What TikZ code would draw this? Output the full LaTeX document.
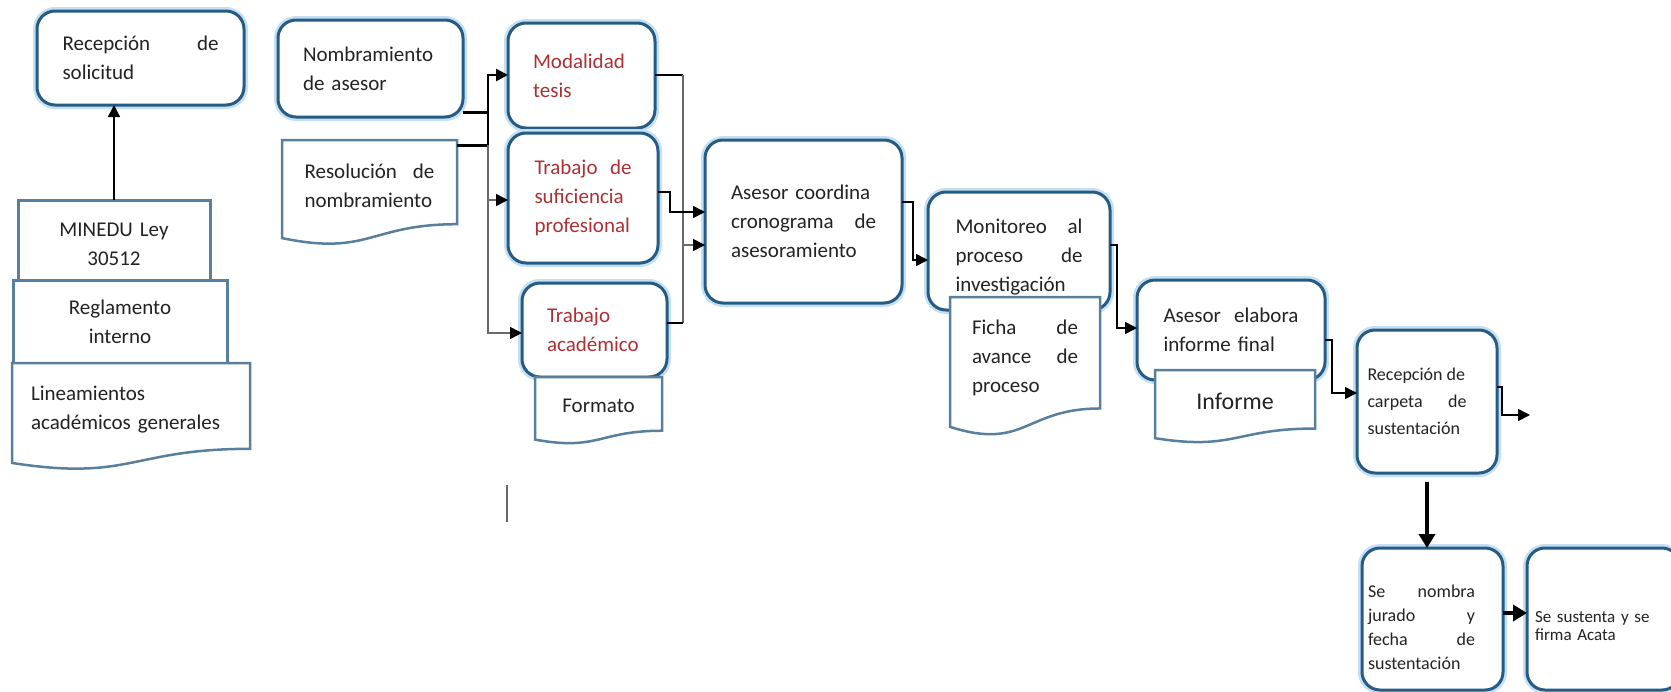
\documentclass[tikz,border=0pt]{standalone}
\usepackage{fontspec}
\setmainfont{Carlito}
\usetikzlibrary{arrows.meta}
\definecolor{rblue}{RGB}{38,92,132}
\definecolor{glowc}{RGB}{196,224,242}
\definecolor{dblue}{RGB}{88,128,158}
\definecolor{txt}{RGB}{35,35,35}
\definecolor{redt}{RGB}{172,48,52}
\definecolor{grayc}{RGB}{105,105,105}
\newcommand\jfill{\hskip0pt plus 1filll\relax}
\tikzset{
 bnode/.style={inner sep=0pt, outer sep=0pt, text=txt, font=\fontsize{21}{29}\selectfont, align=left},
 rbox/.style={bnode, draw=rblue, line width=3pt, rounded corners=18pt, fill=white, preaction={draw=glowc, line width=8pt}},
 sbox/.style={bnode, draw=dblue, line width=3pt, fill=white, align=center},
 docline/.style={draw=dblue, line width=2.5pt, fill=white},
 redtext/.style={text=redt},
 cline/.style={draw=black, line width=1.6pt},
 conn/.style={cline, -{Triangle[length=12pt,width=12pt,color=black]}},
 thickc/.style={draw=black, line width=3pt},
 bigarrow/.style={draw=black, line width=4.5pt, -{Triangle[length=14pt,width=16pt]}},
}
% box given by corners x0 y0 x1 y1
\newcommand\bx[7]{\node[#6, minimum width={(#4-#2)*1pt}, minimum height={(#5-#3)*1pt}] (#1) at ({(#2+#4)/2},{(#3+#5)/2}) {#7};}
% document shape: name x0 y0 width fullheight options text
\newcommand\dc[7]{%
 \path[docline] (#2,#3) -- ({#2+#4},#3) -- ({#2+#4},{#3+0.802*#5})
   .. controls ({#2+0.5*#4},{#3+0.802*#5}) and ({#2+0.5*#4},{#3+1.107*#5}) .. (#2,{#3+0.934*#5}) -- cycle;
 \node[bnode, #6, minimum width={#4*1pt}, minimum height={0.87*#5*1pt}] (#1) at ({#2+0.5*#4},{#3+0.435*#5}) {#7};}
\begin{document}
\begin{tikzpicture}[x=1pt,y=-1pt]
\fill[white] (0,0) rectangle (1671,691);
\useasboundingbox (0,0) rectangle (1671,691);

% left column
\bx{recsol}{37}{11}{244}{105}{rbox, text width=156pt}{Recepción \jfill de\\solicitud}
\bx{minedu}{18}{200}{210}{280}{sbox, text width=170pt}{\rule{0pt}{22pt}MINEDU Ley\\30512}
\bx{regl}{13}{280}{227}{363}{sbox, text width=190pt}{Reglamento\\interno}
\dc{lin}{12}{363}{238}{107}{text width=200pt}{Lineamientos\\académicos generales}

% second group
\bx{nom}{278}{20}{463}{117}{rbox, text width=135pt}{Nombramiento\\de asesor}
\dc{res}{282}{140}{175}{105}{text width=130pt}{Resolución \jfill de\\nombramiento}
\bx{mod}{508}{23}{655}{128}{rbox, redtext, text width=97pt}{Modalidad\\tesis}
\bx{suf}{508}{133}{658}{263}{rbox, redtext, text width=97pt}{Trabajo \jfill de\\suficiencia\\profesional}
\bx{acad}{522}{283}{667}{377}{rbox, redtext, text width=95pt}{Trabajo\\académico}
\dc{fmt}{535}{377}{127}{67}{align=center, text width=110pt}{Formato}

% middle
\bx{ase}{705}{140}{902}{303}{rbox, text width=145pt}{Asesor coordina\\cronograma \jfill de\\asesoramiento}
\bx{mon}{928}{192}{1110}{310}{rbox, text width=127pt}{\rule{0pt}{27pt}Monitoreo \jfill al\\proceso \jfill de\\investigación}
\dc{fic}{950}{297}{150}{139}{text width=106pt}{Ficha \jfill de\\avance \jfill de\\proceso}
\bx{ela}{1137}{280}{1325}{380}{rbox, text width=135pt}{Asesor \jfill elabora\\informe final}
\dc{inf}{1155}{370}{160}{73}{align=center, text width=120pt, font=\fontsize{24}{29}\selectfont}{Informe}

% right
\bx{car}{1357}{330}{1497}{473}{rbox, font=\fontsize{18}{27}\selectfont}{\parbox{99pt}{\raggedright Recepción de\\carpeta \jfill de\\sustentación}\kern20pt}
\bx{jur}{1362}{548}{1503}{690}{rbox, font=\fontsize{18}{24}\selectfont}{\parbox{107pt}{\raggedright\rule{0pt}{29pt}Se \jfill nombra\\jurado \jfill y\\fecha \jfill de\\sustentación}\kern22pt}
\bx{sus}{1527}{548}{1680}{690}{rbox, font=\fontsize{17}{18}\selectfont, text width=137pt}{\rule{0pt}{26pt}Se sustenta y se\\firma Acata}

% connectors
\draw[conn] (minedu.north) -- (minedu.north |- recsol.south);

\draw[thickc] (nom.east |- 0,112) -- (488,112);
\draw[thickc] (res.east |- 0,145) -- (488,145);
\draw[conn, line width=2.6pt] (488,145) |- (mod.west |- 0,75);
\draw[conn, draw=grayc] (488,145) |- (suf.west |- 0,200);
\draw[conn, draw=grayc] (488,200) |- (acad.west |- 0,333);

\draw[cline] (mod.east |- 0,75) -- (683,75);
\draw[cline, draw=grayc] (683,75) -- (683,323);
\draw[cline] (acad.east |- 0,323) -- (683,323);
\draw[conn, draw=grayc] (683,245) -- (ase.west |- 0,245);
\draw[conn] (suf.east |- 0,192) -- (670,192) |- (ase.west |- 0,212);

\draw[conn] (ase.east |- 0,202) -- (913,202) |- (mon.west |- 0,260);
\draw[conn] (mon.east |- 0,245) -- (1117,245) |- (ela.west |- 0,328);
\draw[conn] (ela.east |- 0,340) -- (1332,340) |- (car.west |- 0,393);
\coordinate (out) at (1530,415);
\draw[conn] (car.east |- 0,387) -- (1502,387) |- (out);
\draw[bigarrow] ([yshift=-9pt]car.south) -- (jur.north -| car.south);
\draw[bigarrow] (jur.east |- 0,613) -- (sus.west |- 0,613);

\draw[draw=grayc, line width=2pt] (507,485) -- (507,522);
\end{tikzpicture}
\end{document}
